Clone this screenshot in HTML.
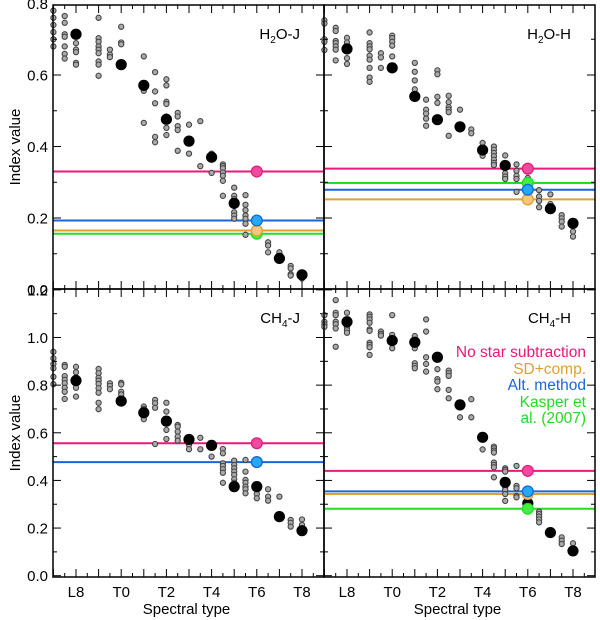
<!DOCTYPE html>
<html><head><meta charset="utf-8"><style>
body{margin:0;background:#fff}
svg{display:block;font-family:"Liberation Sans",sans-serif}
</style></head><body>
<svg id="c" width="600" height="620" viewBox="0 0 600 620" xmlns="http://www.w3.org/2000/svg"></svg>
<script>
// ---------- data ----------
const typeLabels = ["L8","T0","T2","T4","T6","T8"];
const typeLabelIdx = [0,2,4,6,8,10];
const topTicks = [0.0,0.2,0.4,0.6,0.8];
const topTickLabels = ["0.0","0.2","0.4","0.6","0.8"];
const botTicks = [0.0,0.2,0.4,0.6,0.8,1.0,1.2];
const botTickLabels = ["0.0","0.2","0.4","0.6","0.8","1.0","1.2"];

const h2oJGreyT = [-1,-0.5,0,1,1.5,2,3,3.5,4,4.5,5,5.5,6,6.5,7,7.5,8.5,9,9.5,10];
const h2oJGreyV = [[0.78,0.76,0.74,0.72,0.70,0.68],[0.765,0.746,0.714,0.707,0.68,0.659,0.646],[0.71,0.689,0.671,0.664,0.634,0.629],[0.76,0.703,0.693,0.68,0.671,0.661,0.638,0.629,0.598],[0.671,0.657,0.65],[0.735,0.691,0.686,0.627],[0.652,0.568,0.556,0.466],[0.608,0.554,0.521,0.427,0.412],[0.588,0.571,0.525,0.519,0.484,0.452,0.432],[0.494,0.484,0.457,0.446,0.388],[0.461,0.38],[0.471,0.345],[0.38,0.326],[0.35,0.345,0.339,0.327,0.318,0.304,0.262],[0.285,0.262,0.253,0.234,0.216,0.207,0.198],[0.264,0.237,0.222,0.207,0.198,0.184,0.153],[0.132,0.123,0.104],[0.104],[0.066,0.059,0.043,0.039],[0.031]];
const h2oJMeanT = [0,2,3,4,5,6,7,9,10];
const h2oJMeanV = [0.714,0.629,0.571,0.476,0.415,0.37,0.241,0.087,0.041];
const h2oJLines = [0.156,0.165,0.193,0.33]; // green, orange, blue, pink

const h2oHGreyT = [-1,-0.5,0,1,1.5,2,3,3.5,4,4.5,5,5.5,6,6.5,7,7.5,8,8.5,9,9.5,10];
const h2oHGreyV = [[0.753,0.744,0.70,0.693,0.67],[0.732,0.723,0.695,0.689,0.68,0.671,0.641],[0.704,0.691,0.647,0.631],[0.719,0.689,0.68,0.672,0.654,0.643,0.62,0.593,0.581],[0.661,0.649,0.62],[0.71,0.703,0.693,0.682,0.652,0.622],[0.634,0.609,0.585,0.56],[0.531,0.503,0.492,0.478,0.458],[0.613,0.602,0.539,0.522],[0.542,0.524,0.51,0.503,0.496,0.43],[0.503,0.448],[0.448,0.437],[0.41,0.374],[0.4,0.391,0.382,0.373,0.363,0.354,0.348],[0.375,0.341,0.325,0.316,0.309],[0.35,0.332,0.318,0.309,0.273],[0.312],[0.278,0.26,0.248,0.23],[0.266,0.239],[0.208,0.199,0.19,0.176],[0.162,0.148]];
const h2oHMeanT = [0,2,3,4,5,6,7,9,10];
const h2oHMeanV = [0.673,0.62,0.54,0.475,0.455,0.39,0.347,0.226,0.185];
const h2oHLines = [0.298,0.252,0.279,0.338];

const ch4JGreyT = [-1,-0.5,0,1,1.5,2,3,3.5,4,4.5,5,5.5,6,6.5,7,7.5,8,8.5,9,9.5,10];
const ch4JGreyV = [[0.94,0.913,0.889,0.871,0.835,0.804],[0.885,0.877,0.838,0.822,0.808,0.789,0.772,0.742],[0.877,0.854,0.833,0.808,0.789,0.752],[0.868,0.85,0.831,0.819,0.805,0.787,0.768,0.726,0.699],[0.808,0.797,0.783],[0.81,0.803,0.772,0.761],[0.71,0.70,0.657],[0.738,0.724,0.705,0.553],[0.726,0.689,0.647,0.612,0.574],[0.633,0.626,0.605,0.584,0.567],[0.549,0.531],[0.579,0.531],[0.5],[0.532,0.514,0.472,0.461,0.447,0.432,0.39],[0.483,0.465,0.451,0.437,0.423,0.405,0.39],[0.486,0.437,0.402,0.39,0.374,0.363,0.346],[0.343,0.325],[0.363,0.332,0.315],[0.332,0.251],[0.234,0.222,0.206],[0.236,0.213]];
const ch4JMeanT = [0,2,3,4,5,6,7,8,9,10];
const ch4JMeanV = [0.819,0.733,0.684,0.649,0.572,0.547,0.374,0.374,0.248,0.189];
const ch4JLines = [null,null,0.477,0.556];

const ch4HGreyT = [-1,-0.5,0,1,1.5,2,3,3.5,4,4.5,5,5.5,6,6.5,7,7.5,8.5,9.5,10];
const ch4HGreyV = [[1.094,1.066,1.055,1.045],[1.157,1.104,1.094,1.066,1.056,1.038,0.961],[1.104,1.043,1.031,1.02],[1.097,1.087,1.076,1.062,1.034,1.028,0.978,0.969,0.959,0.927],[1.025,1.015,1.008],[1.094,1.011,0.993,0.955],[1.006,0.955,0.892,0.881,0.871],[1.076,1.025,0.917,0.889,0.857],[0.867,0.825,0.815,0.783],[0.861,0.85,0.839,0.78,0.745],[0.707,0.665],[0.741,0.665],[0.53],[0.542,0.535,0.525,0.517,0.475,0.465,0.455,0.413],[0.451,0.444,0.437,0.371,0.36,0.343,0.314],[0.461,0.377,0.367,0.335,0.329],[0.269,0.259,0.248,0.236,0.224],[0.161,0.147,0.133],[0.136]];
const ch4HMeanT = [0,2,3,4,5,6,7,8,9,10];
const ch4HMeanV = [1.066,0.987,0.98,0.917,0.717,0.581,0.392,0.304,0.181,0.104];
const ch4HLines = [0.281,0.343,0.354,0.44];

const legendLabels = ["No star subtraction","SD+comp.","Alt. method","Kasper et","al. (2007)"];
// ---------- drawing ----------
const NS="http://www.w3.org/2000/svg";
const svg=document.getElementById('c');
function mk(tag,attrs,parent){const e=document.createElementNS(NS,tag);for(const k in attrs)e.setAttribute(k,attrs[k]);(parent||svg).appendChild(e);return e;}
const lineCol=["#22dd22","#e0a030","#1a66d8","#e8197a"];
const fillCol=["#44ee44","#f7c77a","#22aaf5","#f04aa0"];
const lineNames=["kasper-line","sd-comp-line","alt-method-line","no-star-line"];

function panel(name,x0,yTop,yBot,yScale,ticks,tickLbl,showXLbl,title,greyT,greyV,meanT,meanV,lines,yMinor){
  const g=mk('g',{});
  
  
  const W=271;
  const X=t=>x0+23+22.6*t;
  const Y=yScale;
  lines.forEach((v,i)=>{ if(v==null)return;
    const l=mk('line',{x1:x0,x2:x0+W,y1:Y(v),y2:Y(v),stroke:lineCol[i],'stroke-width':2},g);
    
    
  });
  greyT.forEach((t,i)=>greyV[i].forEach(v=>{
    const c=mk('circle',{cx:X(t),cy:Y(v),r:2.6,fill:'#aaa',stroke:'#444','stroke-width':1.1},g);
    
    
  }));
  meanT.forEach((t,i)=>{
    const c=mk('circle',{cx:X(t),cy:Y(meanV[i]),r:5.6,fill:'#000'},g);
    
    
  });
  lines.forEach((v,i)=>{ if(v==null)return;
    const c=mk('circle',{cx:X(8),cy:Y(v),r:5.4,fill:fillCol[i],stroke:lineCol[i],'stroke-width':1.3},g);
    
    
  });
  const f=mk('rect',{x:x0,y:yTop,width:W,height:yBot-yTop,fill:'none',stroke:'#000','stroke-width':1.5},g);
  
  
  for(let k=-2;k<=23;k++){const t=k/2;const x=X(t);if(x<=x0||x>=x0+W)continue;
    const L=(k%2===0)?8:4;
    mk('line',{x1:x,x2:x,y1:yBot,y2:yBot-L,stroke:'#000','stroke-width':1},g);
    mk('line',{x1:x,x2:x,y1:yTop,y2:yTop+L,stroke:'#000','stroke-width':1},g);
  }
  const vmax=ticks[ticks.length-1];
  for(let k=0;k<=Math.round(vmax/0.1);k++){const v=k*0.1;const y=Y(v);if(y<yTop+0.5||y>yBot-0.5)continue;
    const L=(k%2===0)?8:4;
    mk('line',{x1:x0,x2:x0+L,y1:y,y2:y,stroke:'#000','stroke-width':1},g);
    mk('line',{x1:x0+W,x2:x0+W-L,y1:y,y2:y,stroke:'#000','stroke-width':1},g);
  }
  if(yMinor){
    ticks.forEach((v,i)=>{const t=mk('text',{x:48,y:Y(v)+5.5,'text-anchor':'end','font-size':15},g);t.textContent=tickLbl[i];
      });
  }
  if(showXLbl){
    typeLabelIdx.forEach((t,i)=>{const tx=mk('text',{x:X(t),y:597,'text-anchor':'middle','font-size':15},g);tx.textContent=typeLabels[i];
      });
    const at=mk('text',{x:x0+W/2-2,y:614,'text-anchor':'middle','font-size':15},g);at.textContent='Spectral type';
    
  }
  const tt=mk('text',{x:x0+W-24,y:yTop+34,'text-anchor':'end','font-size':15},g);
  
  tt.innerHTML=title;
  return {X,Y};
}
const yTopS=v=>289.5-357.5*v;
const yBotS=v=>575.7-238.2*v;
panel('h2o-j-panel',53,5,289,yTopS,topTicks,topTickLabels,false,'H<tspan font-size="10" dy="4">2</tspan><tspan dy="-4">O-J</tspan>',h2oJGreyT,h2oJGreyV,h2oJMeanT,h2oJMeanV,h2oJLines,true);
panel('h2o-h-panel',324,5,289,yTopS,topTicks,topTickLabels,false,'H<tspan font-size="10" dy="4">2</tspan><tspan dy="-4">O-H</tspan>',h2oHGreyT,h2oHGreyV,h2oHMeanT,h2oHMeanV,h2oHLines,false);
panel('ch4-j-panel',53,289,577,yBotS,botTicks,botTickLabels,true,'CH<tspan font-size="10" dy="4">4</tspan><tspan dy="-4">-J</tspan>',ch4JGreyT,ch4JGreyV,ch4JMeanT,ch4JMeanV,ch4JLines,true);
panel('ch4-h-panel',324,289,577,yBotS,botTicks,botTickLabels,true,'CH<tspan font-size="10" dy="4">4</tspan><tspan dy="-4">-H</tspan>',ch4HGreyT,ch4HGreyV,ch4HMeanT,ch4HMeanV,ch4HLines,false);
[147,433].forEach(cy=>{const t=mk('text',{x:0,y:0,'text-anchor':'middle','font-size':15,transform:`translate(20,${cy}) rotate(-90)`});
  t.textContent='Index value';});
const legCols=["#e8197a","#e0a030","#1a66d8","#22dd22","#22dd22"];
const legY=[357,374,390,407,423];
legendLabels.forEach((s,i)=>{const t=mk('text',{x:586,y:legY[i],'text-anchor':'end','font-size':15.5,fill:legCols[i]});
  t.textContent=s;});
</script>
</body></html>
